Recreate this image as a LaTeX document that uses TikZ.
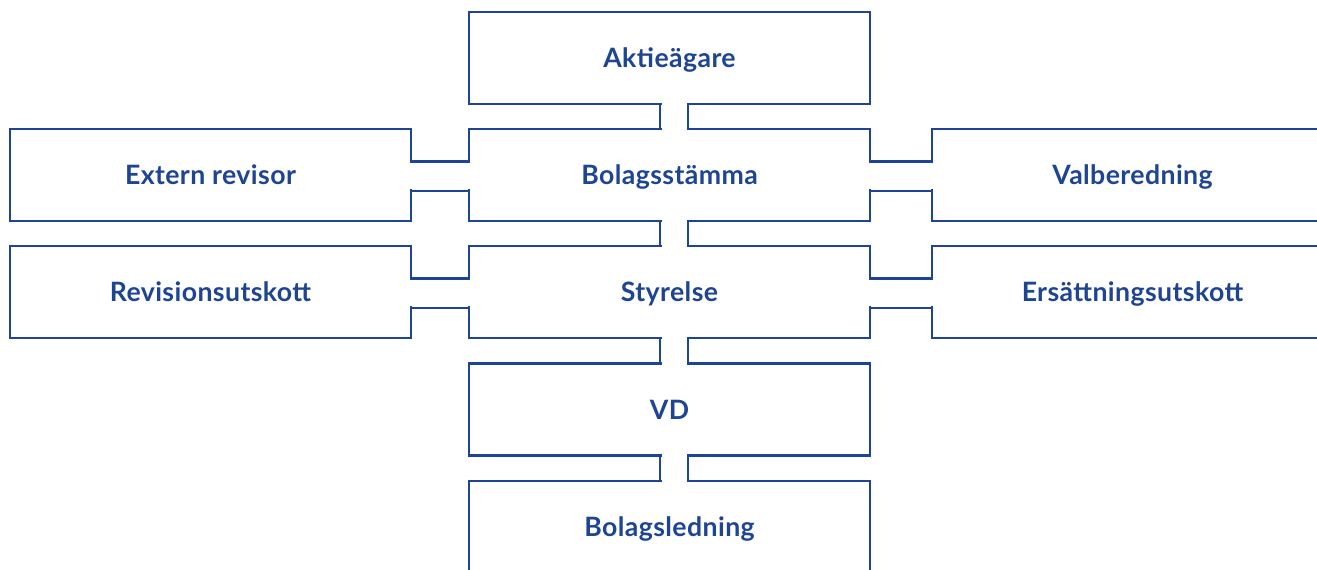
\documentclass[tikz,border=0pt]{standalone}
\usepackage{fontspec}
\setmainfont{Lato}
\usetikzlibrary{calc}
\definecolor{navy}{RGB}{30,68,148}
\tikzset{
  box/.style={draw=navy, line width=1.8pt, minimum width=300.75pt, minimum height=69pt,
              inner sep=0pt, outer sep=0pt, text=navy, text height=14.3pt, text depth=0pt,
              font=\bfseries\fontsize{20}{24}\selectfont\addfontfeature{LetterSpace=1.5}},
  conn/.style={draw=navy, line width=1.8pt, line cap=rect}
}
\newcommand\vneck[2]{%
  \fill[white] ($(#1.south)+(-8,-4)$) rectangle ($(#2.north)+(17,4)$);
  \draw[conn] ($(#1.south)+(-9.5,0)$) -- ($(#2.north)+(-9.5,0)$);
  \draw[conn] ($(#1.south)+(18.5,0)$) -- ($(#2.north)+(18.5,0)$);
}
\newcommand\hneck[2]{%
  \fill[white] ($(#1.east)+(-4,-12)$) rectangle ($(#2.west)+(4,14.5)$);
  \draw[conn] ($(#1.east)+(0,-13.5)$) -- ($(#2.west)+(0,-13.5)$);
  \draw[conn] ($(#1.east)+(0,16)$) -- ($(#2.west)+(0,16)$);
}
\begin{document}
\begin{tikzpicture}[x=0.75pt, y=-0.75pt]
  \useasboundingbox (0,0) rectangle (1317,570);
  \clip (0,0) rectangle (1317,570);
  \fill[white] (0,0) rectangle (1317,570);
  % centre column
  \node[box] (akt) at (669.5,58) {Aktieägare};
  \node[box] (bst) at (669.5,175) {Bolagsstämma};
  \node[box] (sty) at (669.5,292) {Styrelse};
  \node[box] (vd)  at (669.5,409.5) {VD};
  \node[box] (bl)  at (669.5,527) {Bolagsledning};
  % left column
  \node[box] (ext) at (210.5,175) {Extern revisor};
  \node[box] (rev) at (210.5,292) {Revisionsutskott};
  % right column
  \node[box] (val) at (1132.5,175) {Valberedning};
  \node[box] (ers) at (1132.5,292) {Ersättningsutskott};
  % necks
  \vneck{akt}{bst}
  \vneck{bst}{sty}
  \vneck{sty}{vd}
  \vneck{vd}{bl}
  \hneck{ext}{bst}
  \hneck{rev}{sty}
  \hneck{bst}{val}
  \hneck{sty}{ers}
\end{tikzpicture}
\end{document}
